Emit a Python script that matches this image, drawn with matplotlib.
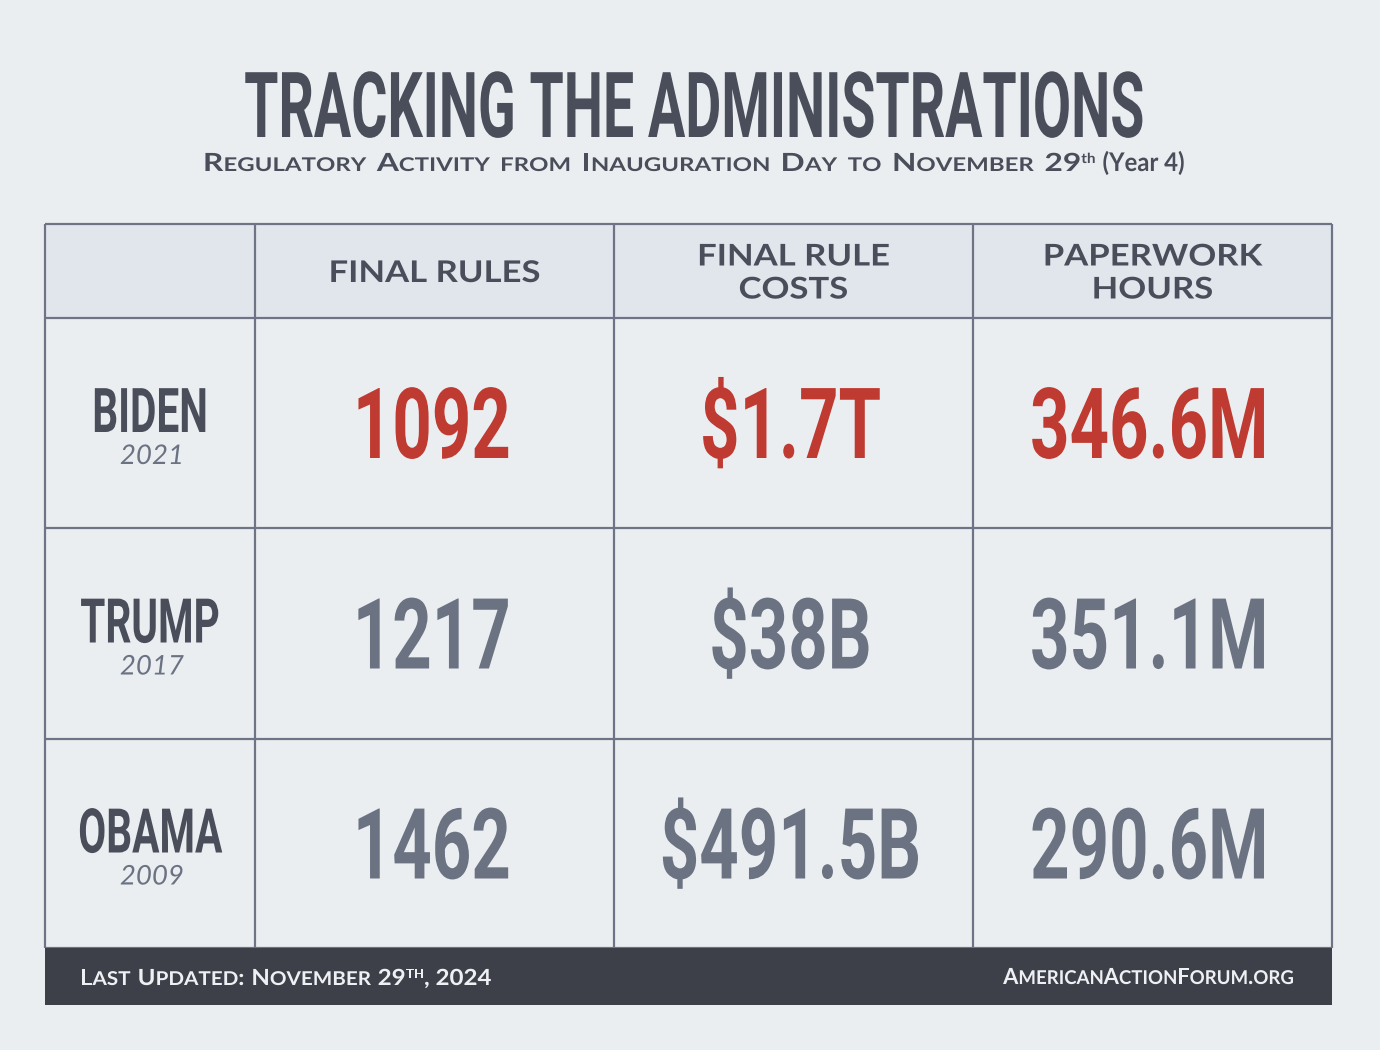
import matplotlib
matplotlib.use("Agg")
import matplotlib.pyplot as plt
from matplotlib.patches import Rectangle
from matplotlib.patheffects import AbstractPathEffect
from matplotlib.transforms import Affine2D

# ---------------- data ----------------
administrations = ["BIDEN", "TRUMP", "OBAMA"]
inauguration_years = ["2021", "2017", "2009"]
column_labels = ["FINAL RULES", "FINAL RULE\nCOSTS", "PAPERWORK\nHOURS"]
final_rules = [1092, 1217, 1462]
final_rule_costs_bn = [1700.0, 38.0, 491.5]      # $ billions
paperwork_hours_mn = [346.6, 351.1, 290.6]       # millions of hours
highlight_row = 0

title_text = "TRACKING THE ADMINISTRATIONS"
subtitle_text = "Regulatory Activity from Inauguration Day to November 29"
subtitle_sup = "th"
subtitle_tail = "(Year 4)"
footer_left = "Last Updated: November 29"
footer_left_sup = "TH"
footer_left_tail = ", 2024"
footer_right = "AmericanActionForum.org"


def fmt_cost(v):
    return f"${v/1000:g}T" if v >= 1000 else f"${v:g}B"


def fmt_hours(v):
    return f"{v:.1f}M"


table_values = [
    [str(v) for v in final_rules],
    [fmt_cost(v) for v in final_rule_costs_bn],
    [fmt_hours(v) for v in paperwork_hours_mn],
]

# ---------------- styling / layout ----------------
BG = "#EBEEF1"
HEAD_BG = "#E1E5EC"
GRID = "#6E7485"
DARK = "#4A4E5A"
GREY = "#6B7282"
RED = "#BF3A31"
FOOT_BG = "#3D4049"
FOOT_TXT = "#EEF0F4"

X_EDGES = [45, 255, 614, 973, 1332]
Y_EDGES = [224, 318, 528, 739, 948]
FOOT_BOTTOM = 1005


class Squeeze(AbstractPathEffect):
    """Draw text glyphs scaled (condensed / extended display face look)."""

    def __init__(self, sx=1.0, sy=1.0):
        super().__init__((0, 0))
        self.sx, self.sy = sx, sy

    def draw_path(self, renderer, gc, tpath, affine, rgbFace=None):
        ext = tpath.get_extents()
        cx = 0.5 * (ext.x0 + ext.x1)
        t = Affine2D().translate(-cx, 0).scale(self.sx, self.sy).translate(cx, 0) + affine
        renderer.draw_path(gc, tpath, t, rgbFace)


DISPLAY_FAMILY = ["Roboto", "DejaVu Sans"]
LABEL_FAMILY = ["Lato", "DejaVu Sans"]

fig = plt.figure(figsize=(13.8, 10.5), dpi=100)
fig.patch.set_facecolor(BG)
ax = fig.add_axes([0, 0, 1, 1])
ax.set_xlim(0, 1380)
ax.set_ylim(1050, 0)
ax.axis("off")
renderer = fig.canvas.get_renderer()


def display_text(x, y, s, size, color, sx, sy):
    ax.text(x, y, s, ha="center", va="baseline", fontsize=size, color=color,
            family=DISPLAY_FAMILY, weight="bold",
            path_effects=[Squeeze(sx, sy)])


def rich_line(runs, x, y, ha, color, sx=1.0):
    arts, widths = [], []
    for item in runs:
        if item[0] is None:
            arts.append(None)
            widths.append(item[1])
            continue
        s, props, dy = item[:3]
        rsx = item[3] if len(item) > 3 else sx
        t = ax.text(0, y - dy, s, color=color, ha="center", va="baseline",
                    path_effects=[Squeeze(rsx, 1.0)], **props)
        arts.append(t)
        widths.append(t.get_window_extent(renderer).width * rsx)
    total = sum(widths)
    cur = {"left": x, "center": x - total / 2, "right": x - total}[ha]
    for t, w in zip(arts, widths):
        if t is not None:
            t.set_x(cur + w / 2)
        cur += w


def sc_runs(text, big, small, gap):
    runs = []
    for i, word in enumerate(text.split(" ")):
        if i:
            runs.append((None, gap))
        buf, kind = "", None
        for ch in word:
            k = "s" if ch.islower() else "b"
            if buf and k != kind:
                runs.append((buf, small if kind == "s" else big, 0))
                buf = ""
            kind = k
            buf += ch.upper()
        if buf:
            runs.append((buf, small if kind == "s" else big, 0))
    return runs


# ---------------- title ----------------
display_text(694, 137, title_text, 52.5, DARK, 0.76, 1.25)

sub_big = dict(fontsize=18, family=LABEL_FAMILY, weight="bold")
sub_small = dict(fontsize=13.6, family=LABEL_FAMILY, weight="bold")
runs = sc_runs(subtitle_text, sub_big, sub_small, 10.5)
runs.append((subtitle_sup, dict(fontsize=10, family=LABEL_FAMILY, weight="bold"), 8, 1.1))
runs.append((None, 7))
runs.append((subtitle_tail, dict(fontsize=18.5, family=LABEL_FAMILY, weight="bold"), 0, 0.93))
rich_line(runs, 694, 171, "center", DARK, sx=1.27)

# ---------------- table body ----------------
ax.add_patch(Rectangle((X_EDGES[0], Y_EDGES[0]), X_EDGES[-1] - X_EDGES[0],
                       Y_EDGES[1] - Y_EDGES[0], facecolor=HEAD_BG, edgecolor="none", zorder=0))
ax.vlines(X_EDGES, Y_EDGES[0], Y_EDGES[-1], colors=GRID, lw=1.6, zorder=2)
ax.hlines(Y_EDGES, X_EDGES[0], X_EDGES[-1], colors=GRID, lw=1.6, zorder=2)

# header labels
hc = 0.5 * (Y_EDGES[0] + Y_EDGES[1])
for j, lab in enumerate(column_labels):
    xc = 0.5 * (X_EDGES[j + 1] + X_EDGES[j + 2])
    lines = lab.split("\n")
    n = len(lines)
    for i, line in enumerate(lines):
        base = hc + 11 - (n - 1) * 16.5 + i * 33
        ax.text(xc, base, line, ha="center", va="baseline", fontsize=21.5,
                family=LABEL_FAMILY, weight="bold", color=DARK,
                path_effects=[Squeeze(1.16, 1.0)])

# rows
for r in range(len(administrations)):
    yc = 0.5 * (Y_EDGES[r + 1] + Y_EDGES[r + 2])
    xn = 0.5 * (X_EDGES[0] + X_EDGES[1])
    display_text(xn, yc + 9, administrations[r], 37, DARK, 0.79, 1.2)
    ax.text(xn + 2, yc + 41, inauguration_years[r], ha="center", va="baseline",
            fontsize=19.5, family=LABEL_FAMILY, style="italic", color=GREY,
            path_effects=[Squeeze(1.02, 1.0)])
    col = RED if r == highlight_row else GREY
    for j in range(3):
        xc = 0.5 * (X_EDGES[j + 1] + X_EDGES[j + 2])
        display_text(xc - 3, yc + 35, table_values[j][r], 59, col, 0.84, 1.2)

# ---------------- footer ----------------
ax.add_patch(Rectangle((X_EDGES[0], Y_EDGES[-1]), X_EDGES[-1] - X_EDGES[0],
                       FOOT_BOTTOM - Y_EDGES[-1], facecolor=FOOT_BG, edgecolor="none", zorder=3))
f_big = dict(fontsize=16, family=LABEL_FAMILY, weight="bold", zorder=4)
f_small = dict(fontsize=13.7, family=LABEL_FAMILY, weight="bold", zorder=4)
runs = sc_runs(footer_left, f_big, f_small, 7)
runs.append((footer_left_sup, dict(fontsize=9, family=LABEL_FAMILY, weight="bold", zorder=4), 7))
runs.append((footer_left_tail, f_big, 0))
rich_line(runs, 80, 985, "left", FOOT_TXT, sx=1.085)
rich_line(sc_runs(footer_right, f_big, f_small, 6), 1294, 984, "right", FOOT_TXT, sx=0.98)

fig.savefig("out.png", dpi=100, facecolor=BG)
